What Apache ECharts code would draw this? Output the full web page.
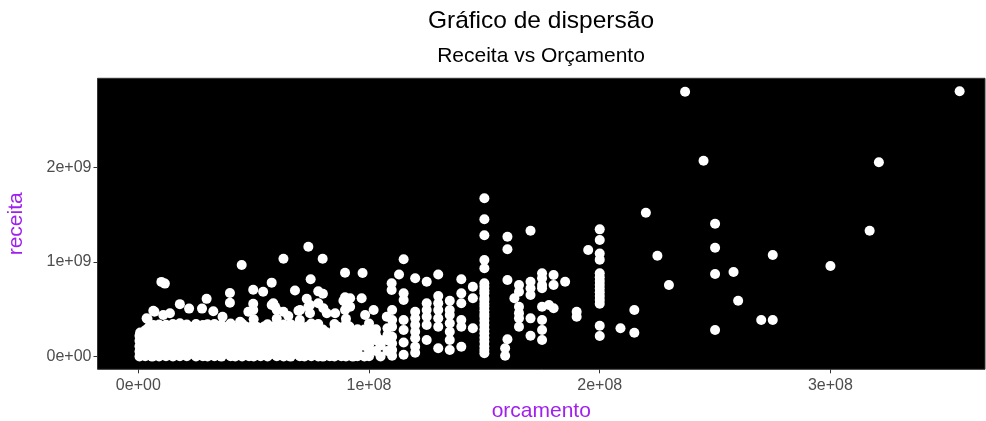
<!DOCTYPE html>
<html>
<head>
<meta charset="utf-8">
<script src="https://cdn.jsdelivr.net/npm/echarts@6/dist/echarts.min.js"></script>
<style>
html,body{margin:0;padding:0;background:#fff;}
#chart{width:986px;height:421px;}
</style>
</head>
<body>
<div id="chart"></div>
<script>
// Values: [orcamento, receita] in US$ millions
const filmesAte30mi = [
  [0.5,2],[0.5,55],[0.5,110],[0.5,168],[0.5,222],[0.8,255],
  [1.8,30],[1.8,85],[1.8,140],[1.8,196],[1.8,245],
  [3,4],[3,60],[3,115],[3,170],[3,228],[3,280],[3.6,405],[4,398],
  [4.5,32],[4.5,88],[4.5,142],[4.5,200],[4.5,258],[4.5,310],
  [6,1],[6,58],[6,112],[6,172],[6,230],[6,290],[6.5,335],[6.5,486],[7,475],
  [7.5,30],[7.5,86],[7.5,145],[7.5,202],[7.5,260],[7.5,315],
  [9,3],[9,62],[9,118],[9,175],[9,232],[9,285],[9,340],
  [10.5,28],[10.5,90],[10.5,146],[10.5,205],[10.5,262],[10.5,312],
  [10,790],[11.5,772],[10.8,440],[13.7,458],
  [12,5],[12,60],[12,120],[12,168],[12,226],[12,282],[12,338],
  [13.5,33],[13.5,88],[13.5,143],[13.5,199],[13.5,256],[13.5,318],
  [15,2],[15,57],[15,114],[15,171],[15,229],[15,287],[15,345],
  [16.5,31],[16.5,85],[16.5,141],[16.5,203],[16.5,259],[16.5,320],
  [18,6],[18,63],[18,117],[18,176],[18,234],[18,290],[18,352],[18,555],
  [19.5,29],[19.5,90],[19.5,147],[19.5,198],[19.5,262],[19.5,316],
  [21,4],[21,59],[21,113],[21,170],[21,227],[21,283],[21,340],[22,508],
  [23,32],[23,87],[23,144],[23,201],[23,257],[23,314],
  [25,3],[25,61],[25,119],[25,174],[25,231],[25,288],[25,346],[27.6,508],
  [26.5,30],[26.5,89],[26.5,142],[26.5,204],[26.5,260],[26.5,318],
  [28,5],[28,56],[28,112],[28,169],[28,225],[28,280],[28,335],[29.6,611]
];
const filmes30a70mi = [
  [30,2],[30,58],[30,115],[30,172],[30,228],[30,285],[30,342],[32.5,480],
  [31.5,31],[31.5,87],[31.5,143],[31.5,200],[31.5,258],[31.5,314],
  [33,4],[33,61],[33,118],[33,175],[33,230],[33,287],[33,345],
  [34.5,29],[34.5,90],[34.5,146],[34.5,203],[34.5,259],[34.5,316],
  [36,1],[36,57],[36,113],[36,170],[36,226],[36,282],[36,338],[36.5,422],
  [38,33],[38,88],[38,141],[38,198],[38,255],[38,312],
  [39.7,672],[39.7,570],
  [40,5],[40,62],[40,120],[40,178],[40,235],[40,292],[40,350],
  [42,3],[42,59],[42,116],[42,173],[42,229],[42,286],
  [43.5,30],[43.5,86],[43.5,145],[43.5,202],[43.5,260],[43.5,318],
  [44.1,370],[44.8,968],
  [45,2],[45,60],[45,117],[45,174],[45,232],[45,290],[45,348],[47.7,475],
  [46.5,32],[46.5,89],[46.5,146],[46.5,204],[46.5,262],[46.5,320],
  [48,6],[48,63],[48,119],[48,176],[48,233],[48,289],
  [49.8,708],[49.8,560],[49.8,493],
  [50,3],[50,58],[50,114],[50,171],[50,227],[50,284],[50,340],[50,395],
  [51.5,31],[51.5,86],[51.5,142],[51.5,199],[51.5,256],[51.5,313],
  [53,4],[53,61],[53,118],[53,175],[53,231],[53,288],[54.1,686],
  [54.5,33],[54.5,90],[54.5,145],[54.5,203],[54.5,259],[54.5,318],
  [56,2],[56,59],[56,115],[56,172],[56,229],[56,285],[56,342],
  [57.8,782],[57.8,546],[58.5,564],[59.3,528],
  [58,30],[58,87],[58,143],[58,200],[58,258],[58,315],
  [60,5],[60,62],[60,120],[60,177],[60,234],[60,291],[60,348],[60,400],[60,493],
  [61.5,32],[61.5,88],[61.5,146],[61.5,202],[61.5,261],[61.5,319],
  [62.9,1035],[62.9,475],
  [63,3],[63,57],[63,113],[63,170],[63,226],[63,283],[63,339],[65,430],
  [64.5,29],[64.5,86],[64.5,142],[64.5,199],[64.5,257],[64.5,316],
  [66,1],[66,60],[66,117],[66,174],[66,230],[66,287],[66,344],
  [67.9,700],[69.4,486],
  [68,31],[68,89],[68,146],[68,203],[68,260],[68,318],
  [70,4],[70,61],[70,118],[70,175],[70,232],[70,290],[70,348],[70,388],[70.1,493]
];
const filmes70a110mi = [
  [72,2],[72,60],[72,118],[72,175],[72,232],[72,290],
  [73.5,30],[73.5,88],[73.5,146],[73.5,203],[73.5,262],[73.5,320],
  [73,612],[73.7,1162],[73.7,528],[74.4,546],[74.4,458],[74.7,817],
  [75,5],[75,62],[75,120],[75,178],[75,235],[75,292],[75,350],
  [76.5,32],[76.5,87],[76.5,143],[76.5,200],[76.5,258],[76.5,316],
  [78,3],[78,58],[78,115],[78,172],[78,228],[78,285],[78,345],[78,690],[78,564],
  [79.9,1035],[80,665],[80.2,511],[81.7,458],
  [80,1],[80,60],[80,117],[80,174],[80,230],[80,288],
  [81.5,30],[81.5,89],[81.5,146],[81.5,202],[81.5,259],
  [83,4],[83,61],[83,118],[83,175],[83,232],
  [85,2],[85,59],[85,116],[85,173],[85,230],[85,287],[85,345],[85.3,458],
  [86.5,31],[86.5,88],[86.5,145],[86.5,203],[86.5,258],[86.5,316],
  [88,5],[88,62],[88,120],[88,177],[88,234],
  [88.9,591],[89.6,887],[89.6,627],[89.6,493],[90.3,546],[91.8,617],[91.8,528],
  [90,3],[90,60],[90,117],[90,174],[90,231],[90,289],[90,347],[90,400],
  [91.5,30],[91.5,87],[91.5,144],[91.5,260],[91.5,318],
  [93,1],[93,58],[93,115],[93,172],[93,229],
  [95,4],[95,61],[95,118],[95,176],[95,233],[95,290],
  [96.8,617],[97.2,884],[98.3,440],
  [98,2],[98,115],[98,172],[98,229],[98,286],
  [100,5],[100,62],[100,120],[100,177],[100,234],[100,291],[100,350],
  [102,493],
  [103,60],[103,175],[103,232],[103,290],
  [105,3],[105,118],[105,176],[107.7,422],
  [108,60],[108,173],[108,230],[108,300]
];
const filmes110a150mi = [
  [109.8,775],[109.8,704],
  [110,493],[110,388],[110,317],[110,211],[110,140],[110,71],[110,10],
  [113,868],
  [115,1030],[115,669],[115,599],[115,388],[115,282],[115,150],[115,20],
  [120,828],[120,475],[120,405],[120,335],[120,264],[120,194],[120,106],[120,42],
  [125,792],[125,564],[125,493],[125,422],[125,335],[125,176],
  [130,868],[130,640],[130,564],[130,493],[130,405],[130,317],[130,89],
  [135,590],[135,493],[135,440],[135,352],[135,264],[135,176],[135,71],
  [140,817],[140,669],[140,564],[140,388],[140,317],[140,106],
  [145,739],[145,617],[145,300]
];
const filmes150a200mi = [
  [150,1673],[150,1451],[150,1282],[150,1021],[150,934],[150,775],[150,739],
  [150,700],[150,669],[150,620],[150,599],[150,560],[150,528],[150,490],
  [150,450],[150,422],[150,380],[150,335],[150,290],[150,247],[150,200],
  [150,158],[150,110],[150,70],[150,36],
  [160,1267],[160,1134],[160,810],[160,184],[159,89],[159,10],
  [165,757],[165,686],[163,617],[165,528],[165,460],[165,405],[165,317],
  [170,1331],[170,792],[170,722],[170,651],[170,405],[170,222],
  [175,881],[175,828],[175,757],[175,722],[175,528],[175,388],[175,282],[175,176],
  [178,546],[180,863],[180,757],[180,511],[185,792],
  [190,475],[190,422],[195,1127]
];
const filmesAcima200mi = [
  [200,1345],[200,1232],[200,1090],[200,1025],[200,880],[200,840],[200,800],
  [200,760],[200,720],[200,680],[200,640],[200,600],[200,560],[200,327],[200,219],
  [209,300],[215,493],[215,253],[220,1521],[225,1067],[230,757],[237,2798],
  [245,2070],[250,1404],[250,1151],[250,873],[250,282],[258,894],[260,591],
  [270,388],[275,1074],[275,388],[300,958],[317,1331],[321,2053],[356,2803]
];

// Axis ticks (values in US$ millions) and their labels
const xTicks = [0, 100, 200, 300];
const xTickLabels = ['0e+00', '1e+08', '2e+08', '3e+08'];
const yTicks = [0, 1000, 2000];
const yTickLabels = ['0e+00', '1e+09', '2e+09'];

const titulo = 'Gráfico de dispersão';
const subtitulo = 'Receita vs Orçamento';
const nomeX = 'orcamento';
const nomeY = 'receita';

const pontos = [].concat(filmesAte30mi, filmes30a70mi, filmes70a110mi,
  filmes110a150mi, filmes150a200mi, filmesAcima200mi);

const FONT = '"Liberation Sans", Arial, Helvetica, sans-serif';
const chart = echarts.init(document.getElementById('chart'), null, {renderer: 'canvas'});

const option = {
  backgroundColor: '#ffffff',
  animation: false,
  grid: {
    left: 97.5, right: 1, top: 78.3, bottom: 51.7,
    containLabel: false, outerBoundsMode: 'none',
    show: true, backgroundColor: '#000000', borderColor: '#333333', borderWidth: 1
  },
  xAxis: {
    type: 'value', min: -17.7, max: 367,
    name: nomeX, nameLocation: 'middle', nameGap: 31,
    nameTextStyle: {color: '#A020F0', fontSize: 21, fontFamily: FONT},
    axisLine: {show: false, onZero: false},
    splitLine: {show: false},
    axisTick: {show: true, inside: false, length: 4, customValues: xTicks, lineStyle: {color: '#333333'}},
    axisLabel: {
      customValues: xTicks,
      formatter: v => xTickLabels[xTicks.indexOf(v)],
      color: '#4D4D4D', fontSize: 16, margin: 8, fontFamily: FONT
    }
  },
  yAxis: {
    type: 'value', min: -133, max: 2940,
    name: nomeY, nameLocation: 'middle', nameGap: 71,
    nameTextStyle: {color: '#A020F0', fontSize: 21, fontFamily: FONT},
    axisLine: {show: false, onZero: false},
    splitLine: {show: false},
    axisTick: {show: true, inside: false, length: 4, customValues: yTicks, lineStyle: {color: '#333333'}},
    axisLabel: {
      customValues: yTicks,
      formatter: v => yTickLabels[yTicks.indexOf(v)],
      color: '#4D4D4D', fontSize: 16, margin: 6, fontFamily: FONT
    }
  },
  graphic: [
    {type: 'text', x: 541, y: 21, style: {text: titulo, fill: '#000', font: '24.5px ' + FONT, textAlign: 'center', textVerticalAlign: 'middle'}},
    {type: 'text', x: 541, y: 56, style: {text: subtitulo, fill: '#000', font: '21px ' + FONT, textAlign: 'center', textVerticalAlign: 'middle'}}
  ],
  series: [{
    type: 'scatter',
    data: pontos,
    symbol: 'circle',
    symbolSize: 10,
    itemStyle: {color: '#ffffff', opacity: 1},
    silent: true
  }]
};
chart.setOption(option);
</script>
</body>
</html>
